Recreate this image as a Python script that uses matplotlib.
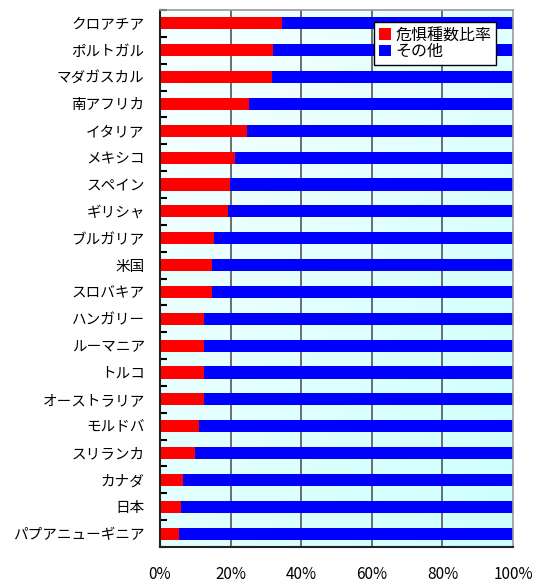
import numpy as np
import matplotlib
matplotlib.use("Agg")
import matplotlib.pyplot as plt
from matplotlib.patches import Patch
from matplotlib.colors import LinearSegmentedColormap

plt.rcParams['font.family'] = ['Noto Sans CJK JP', 'DejaVu Sans']

countries = ["クロアチア", "ポルトガル", "マダガスカル", "南アフリカ", "イタリア",
             "メキシコ", "スペイン", "ギリシャ", "ブルガリア", "米国",
             "スロバキア", "ハンガリー", "ルーマニア", "トルコ", "オーストラリア",
             "モルドバ", "スリランカ", "カナダ", "日本", "パプアニューギニア"]
threatened = [34.6, 32.1, 31.7, 25.3, 24.6, 21.3, 19.8, 19.3, 15.3, 14.7,
              14.7, 12.5, 12.5, 12.5, 12.5, 11.1, 9.9, 6.6, 6.0, 5.5]
others = [100 - v for v in threatened]

fig = plt.figure(figsize=(5.33, 5.85), dpi=100)
ax = fig.add_axes([160 / 533, 38 / 585, 353 / 533, 537 / 585])

n = len(countries)
y = np.arange(n)

# pale cyan gradient behind the bars
grad = np.add.outer(np.linspace(0, 1, 50), np.linspace(0, 1, 50)) / 2
cmap = LinearSegmentedColormap.from_list("bg", ["#f8ffff", "#ccffff"])
ax.imshow(grad, cmap=cmap, extent=[0, 100, n - 0.5, -0.5], aspect="auto",
          zorder=0, interpolation="bilinear")

for xv in [20, 40, 60, 80]:
    ax.axvline(xv, color="#555555", lw=1.2, zorder=1)

ax.barh(y, threatened, height=0.45, color="#ff0000", zorder=2, label="危惧種数比率")
ax.barh(y, others, left=threatened, height=0.45, color="#0000ff", zorder=2, label="その他")

ax.set_xlim(0, 100)
ax.set_ylim(n - 0.5, -0.5)
ax.set_yticks(y)
ax.set_yticklabels(countries, fontsize=10.5)
ax.set_yticks(np.arange(n + 1) - 0.5, minor=True)
ax.tick_params(axis="y", which="major", length=0, pad=11)
ax.tick_params(axis="y", which="minor", direction="in", length=5, width=1.5, color="black")
ax.set_xticks([0, 20, 40, 60, 80, 100])
ax.set_xticklabels(["0%", "20%", "40%", "60%", "80%", "100%"], fontsize=11)
ax.tick_params(axis="x", length=0, pad=14)

for side in ["top", "right"]:
    ax.spines[side].set_color("#999999")
    ax.spines[side].set_linewidth(1.2)
for side in ["left", "bottom"]:
    ax.spines[side].set_color("#222222")
    ax.spines[side].set_linewidth(1.5)

handles = [Patch(facecolor="#ff0000", label="危惧種数比率"),
           Patch(facecolor="#0000ff", label="その他")]
leg = fig.legend(handles=handles, loc="upper left", bbox_to_anchor=(374 / 533, 1 - 22 / 585),
                 fontsize=11.5, frameon=True, fancybox=False, edgecolor="black",
                 framealpha=1, handlelength=0.75, handleheight=0.75, handletextpad=0.3,
                 labelspacing=-0.05, borderpad=0.3, borderaxespad=0)
leg.get_frame().set_linewidth(1.0)

fig.savefig("out.png", dpi=100)
